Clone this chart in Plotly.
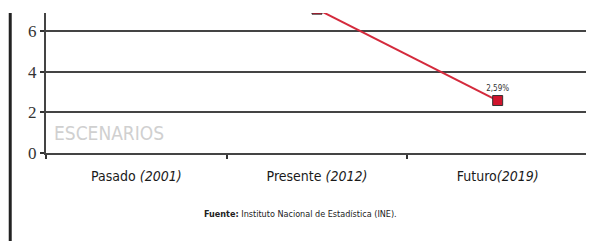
import plotly.graph_objects as go

categories = ["Pasado (2001)", "Presente (2012)", "Futuro(2019)"]
tick_labels = ["Pasado <i>(2001)</i>", "Presente <i>(2012)</i>", "Futuro<i>(2019)</i>"]
values = [None, 7.1, 2.59]
value_labels = ["", "", "2,59%"]
y_ticks = [0, 2, 4, 6]

SANS = "DejaVu Sans Condensed"

fig = go.Figure()
fig.add_trace(go.Scatter(
    x=categories, y=values, mode="lines+markers+text",
    text=value_labels, textposition="top center",
    textfont=dict(family=SANS, size=8, color="#333"),
    line=dict(color="#d42a3c", width=2),
    marker=dict(symbol="square", size=10, color="#d0142c", line=dict(color="#333", width=1)),
    cliponaxis=True, connectgaps=False, showlegend=False,
))

fig.update_layout(
    width=594, height=241,
    margin=dict(l=38, r=14, t=5, b=96, autoexpand=False),
    paper_bgcolor="white", plot_bgcolor="white",
    xaxis=dict(
        type="category", categoryorder="array", categoryarray=categories,
        tickvals=categories, ticktext=tick_labels, automargin=False,
        range=[-0.5, 2.5], tickson="boundaries",
        ticks="outside", ticklen=4, tickwidth=1.5, tickcolor="#333",
        showline=True, linecolor="#444", linewidth=2, showgrid=False,
        tickfont=dict(family=SANS, size=14, color="#1a1a1a"),
        ticklabelstandoff=9,
    ),
    yaxis=dict(
        range=[0, 6.91], tickvals=y_ticks, automargin=False,
        ticks="outside", ticklen=4, tickwidth=1.5, tickcolor="#333",
        showline=True, linecolor="#444", linewidth=2,
        showgrid=True, gridcolor="#444", gridwidth=2, zeroline=False,
        tickfont=dict(family="serif", size=17, color="#333"),
    ),
    annotations=[
        dict(text="ESCENARIOS", xref="paper", yref="paper", x=0.011, y=0.143,
             xanchor="left", yanchor="middle", showarrow=False,
             font=dict(family=SANS, size=19, color="#d0d0d0")),
        dict(text="<b>Fuente:</b> Instituto Nacional de Estadística (INE).",
             xref="paper", yref="paper", x=0.469, y=-0.436,
             xanchor="center", yanchor="middle", showarrow=False,
             font=dict(family=SANS, size=9, color="#222")),
    ],
    shapes=[
        dict(type="line", xref="paper", yref="paper", x0=-0.066, x1=-0.066, y0=1.0, y1=-0.75,
             line=dict(color="#222", width=3)),
    ],
)

fig.write_html("out.html")
